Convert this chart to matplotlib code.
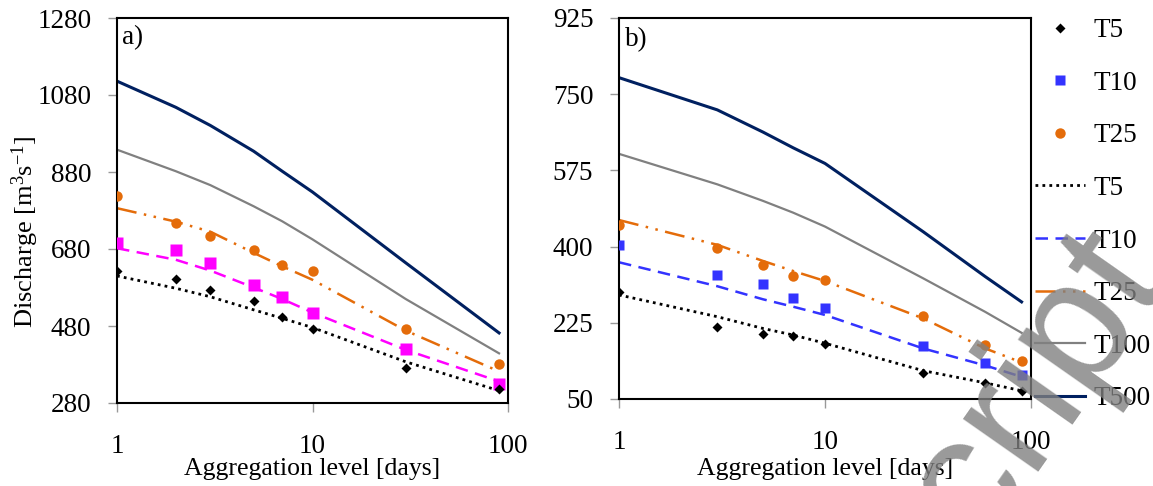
import numpy as np
import matplotlib as mpl
import matplotlib.pyplot as plt
from matplotlib.ticker import FixedLocator, FixedFormatter, NullLocator

# global font settings (Times-like serif everywhere)
mpl.rcParams['font.family'] = 'Liberation Serif'
mpl.rcParams['mathtext.fontset'] = 'custom'
mpl.rcParams['mathtext.rm'] = 'Liberation Serif'
mpl.rcParams['mathtext.default'] = 'regular'

TICK_SIZE = 19.5
LABEL_SIZE = 18.5
mpl.rc('font', size=TICK_SIZE)
mpl.rc('axes', labelsize=LABEL_SIZE, linewidth=1.5)
mpl.rc('xtick', labelsize=TICK_SIZE)
mpl.rc('ytick', labelsize=TICK_SIZE)
mpl.rc('legend', fontsize=TICK_SIZE)

# ---- panel a) ----
days_a = [1, 2, 3, 5, 7, 10, 30, 90]
a_t5_obs = [624, 603, 574, 546, 504, 472, 372, 316]
a_t10_obs = [696, 678, 643, 587, 555, 513, 421, 330]
a_t25_obs = [818, 747, 715, 678, 639, 622, 472, 381]
a_t5_fit = [610, 578, 556, 522, 500, 476, 387, 312]
a_t10_fit = [682, 652, 624, 580, 550, 515, 418, 336]
a_t25_fit = [786, 751, 725, 670, 635, 600, 468, 362]
a_t100 = [938, 882, 846, 791, 752, 705, 550, 409]
a_t500 = [1116, 1048, 1001, 934, 882, 828, 644, 462]
a_yticks = [280, 480, 680, 880, 1080, 1280]

# ---- panel b) ----
days_b = [1, 3, 5, 7, 10, 30, 60, 90]
b_t5_obs = [295, 215, 199, 195, 176, 110, 86, 69]
b_t10_obs = [403, 334, 313, 281, 258, 172, 133, 105]
b_t25_obs = [449, 396, 357, 332, 323, 241, 175, 137]
b_t5_fit = [289, 239, 212, 197, 178, 115, 87, 69]
b_t10_fit = [364, 309, 279, 262, 243, 166, 127, 101]
b_t25_fit = [461, 404, 367, 344, 321, 235, 166, 134]
b_t100 = [613, 543, 505, 478, 446, 327, 250, 202]
b_t500 = [788, 714, 663, 627, 591, 434, 331, 273]
b_yticks = [50, 225, 400, 575, 750, 925]

xticks = [1, 10, 100]
xticklabels = ['1', '10', '100']

ORANGE = '#E46C0A'
BLUE = '#3333FF'
MAGENTA = '#FF00FF'
NAVY = '#002060'
GREY = '#808080'

dotted = (0, (1, 1.5))
dashed = (0, (5, 3))
dashdotdot = (0, (8, 3, 1, 3, 1, 3))

fig = plt.figure(figsize=(11.53, 4.86), dpi=100)
ax_a = fig.add_axes([117/1153, 1-403/486, 391/1153, 385/486])
ax_b = fig.add_axes([619/1153, 1-399/486, 412/1153, 381/486])


def draw_panel(ax, days, t5_obs, t10_obs, t25_obs, t5_fit, t10_fit, t25_fit,
               t100, t500, t10_color, sq_size):
    ax.plot(days, t500, color=NAVY, lw=2.2, label='T500', zorder=2)
    ax.plot(days, t100, color=GREY, lw=1.6, label='T100', zorder=2)
    ax.plot(days, t25_fit, color=ORANGE, lw=1.8, ls=dashdotdot, label='T25', zorder=2)
    ax.plot(days, t10_fit, color=t10_color, lw=1.8, ls=dashed, label='T10', zorder=2)
    ax.plot(days, t5_fit, color='k', lw=2.0, ls=dotted, label='T5', zorder=2)
    ax.plot(days, t25_obs, 'o', color=ORANGE, ms=7.5, mec='none', label='T25', zorder=3)
    ax.plot(days, t10_obs, 's', color=t10_color, ms=sq_size, mec='none', label='T10', zorder=3)
    ax.plot(days, t5_obs, 'D', color='k', ms=5.5, mec='none', label='T5', zorder=3)

    ax.set_xscale('log')
    ax.set_xlim(1, 100)
    ax.xaxis.set_major_locator(FixedLocator(xticks))
    ax.xaxis.set_major_formatter(FixedFormatter(xticklabels))
    ax.xaxis.set_minor_locator(NullLocator())
    ax.tick_params(axis='both', direction='out', length=6.5, width=1, color='0.6')
    ax.tick_params(axis='x', pad=16)
    ax.tick_params(axis='y', pad=12)
    for s in ax.spines.values():
        s.set_color('k')


draw_panel(ax_a, days_a, a_t5_obs, a_t10_obs, a_t25_obs, a_t5_fit, a_t10_fit,
           a_t25_fit, a_t100, a_t500, MAGENTA, 8.2)
ax_a.set_ylim(a_yticks[0], a_yticks[-1])
ax_a.set_yticks(a_yticks)
ax_a.set_ylabel('Discharge [m$^{3}$s$^{-1}$]', fontsize=19)
ax_a.yaxis.set_label_coords(-0.195, 0.444)
ax_a.set_xlabel('Aggregation level [days]')
ax_a.xaxis.set_label_coords(0.5, -0.142)
ax_a.text(0.013, 0.95, 'a)', transform=ax_a.transAxes, ha='left', va='center')

draw_panel(ax_b, days_b, b_t5_obs, b_t10_obs, b_t25_obs, b_t5_fit, b_t10_fit,
           b_t25_fit, b_t100, b_t500, BLUE, 7.5)
ax_b.set_ylim(b_yticks[0], b_yticks[-1])
ax_b.set_yticks(b_yticks)
ax_b.set_xlabel('Aggregation level [days]')
ax_b.xaxis.set_label_coords(0.5, -0.156)
ax_b.text(0.015, 0.942, 'b)', transform=ax_b.transAxes, ha='left', va='center')

# legend: observed markers first, then the fitted / quantile curves
handles, labels = ax_b.get_legend_handles_labels()
order = [7, 6, 5, 4, 3, 2, 1, 0]
leg = ax_b.legend([handles[i] for i in order], [labels[i] for i in order],
                  loc='upper left', bbox_to_anchor=(1.0097, 1.0), frameon=False,
                  borderpad=0, borderaxespad=0, handlelength=1.85, handletextpad=0.3,
                  labelspacing=1.02, numpoints=1)
leg.legend_handles[1].set_markersize(7.5)

fig.text(1.0165, 0.4198, 'Accepted Manuscript', rotation=55, rotation_mode='anchor',
         ha='right', va='baseline', fontsize=126, family='Liberation Sans',
         color='0.5', alpha=0.8, zorder=10)

fig.savefig('out.png', dpi=100)
